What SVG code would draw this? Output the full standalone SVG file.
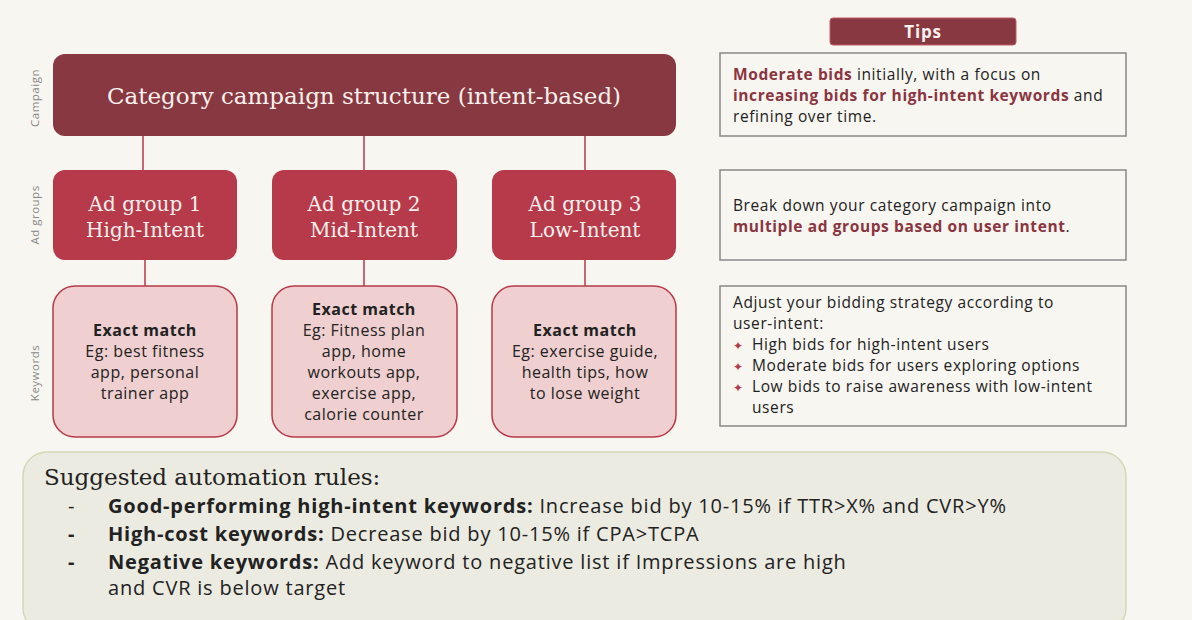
<svg xmlns="http://www.w3.org/2000/svg" width="1192" height="620" viewBox="0 0 1192 620">
<style>
.serif{font-family:"DejaVu Serif",serif}
.sans{font-family:"Open Sans",sans-serif}
.ag{fill:#b73a4a}
.kw{fill:#efcfcf;stroke:#b73a4a;stroke-width:1.5}
.tip{fill:#f8f6f1;stroke:#888;stroke-width:1.5}
.lbl{font-family:"Open Sans",sans-serif;font-size:11.5px;fill:#888;letter-spacing:0.5px}
.agt{font-family:"DejaVu Serif",serif;font-size:20px;fill:#fbf1ee;text-anchor:middle}
.kt{font-family:"Open Sans",sans-serif;font-size:16px;fill:#222;text-anchor:middle;letter-spacing:0.5px}
.tt{font-family:"Open Sans",sans-serif;font-size:15.5px;fill:#222;letter-spacing:0.6px}
.hl{font-weight:bold;fill:#8a3540}
.st{fill:#b73a4a;font-size:12px}
.bt{font-family:"Open Sans",sans-serif;font-size:20px;fill:#222;letter-spacing:0.8px}
</style>
<rect width="1192" height="620" fill="#f8f6f1"/>
<g class="lbl">
<text transform="translate(39,98) rotate(-90)" text-anchor="middle">Campaign</text>
<text transform="translate(39,215) rotate(-90)" text-anchor="middle">Ad groups</text>
<text transform="translate(39,373) rotate(-90)" text-anchor="middle">Keywords</text>
</g>
<g id="connectors" stroke="#b73a4a" stroke-width="1.5">
<line x1="143" y1="136" x2="143" y2="170"/><line x1="364" y1="136" x2="364" y2="170"/><line x1="585" y1="136" x2="585" y2="170"/>
<line x1="145" y1="260" x2="145" y2="286"/><line x1="364" y1="260" x2="364" y2="286"/><line x1="585" y1="260" x2="585" y2="286"/>
</g>
<g id="campaign"><rect x="53" y="54" width="623" height="82" rx="12" fill="#883840"/>
<text x="364" y="104" class="serif" font-size="23" fill="#fbf1ee" text-anchor="middle">Category campaign structure (intent-based)</text></g>
<g id="ag1"><rect class="ag" x="53" y="170" width="184" height="90" rx="12"/><text class="agt" x="145" y="211">Ad group 1</text><text class="agt" x="145" y="237">High-Intent</text></g>
<g id="ag2"><rect class="ag" x="272" y="170" width="185" height="90" rx="12"/><text class="agt" x="364" y="211">Ad group 2</text><text class="agt" x="364" y="237">Mid-Intent</text></g>
<g id="ag3"><rect class="ag" x="492" y="170" width="184" height="90" rx="12"/><text class="agt" x="585" y="211">Ad group 3</text><text class="agt" x="585" y="237">Low-Intent</text></g>
<g id="kw1"><rect class="kw" x="53" y="286" width="184" height="151" rx="22"/>
<text class="kt" x="145" y="336"><tspan font-weight="bold">Exact match</tspan><tspan x="145" dy="21">Eg: best fitness</tspan><tspan x="145" dy="21">app, personal</tspan><tspan x="145" dy="21">trainer app</tspan></text></g>
<g id="kw2"><rect class="kw" x="272" y="286" width="185" height="151" rx="22"/>
<text class="kt" x="364" y="315"><tspan font-weight="bold">Exact match</tspan><tspan x="364" dy="21">Eg: Fitness plan</tspan><tspan x="364" dy="21">app, home</tspan><tspan x="364" dy="21">workouts app,</tspan><tspan x="364" dy="21">exercise app,</tspan><tspan x="364" dy="21">calorie counter</tspan></text></g>
<g id="kw3"><rect class="kw" x="492" y="286" width="184" height="151" rx="22"/>
<text class="kt" x="585" y="336"><tspan font-weight="bold">Exact match</tspan><tspan x="585" dy="21">Eg: exercise guide,</tspan><tspan x="585" dy="21">health tips, how</tspan><tspan x="585" dy="21">to lose weight</tspan></text></g>
<g id="tips-header"><rect x="830" y="18" width="186" height="27" rx="3" fill="#883840" stroke="#c05a64"/>
<text x="923" y="38" class="sans" font-size="17" font-weight="bold" fill="#fbf1ee" text-anchor="middle" letter-spacing="0.8">Tips</text></g>
<g id="tip1"><rect class="tip" x="720" y="53" width="406" height="83"/>
<text class="tt" x="733" y="80"><tspan class="hl">Moderate bids</tspan> initially, with a focus on<tspan x="733" dy="21" class="hl">increasing bids for high-intent keywords</tspan> and<tspan x="733" dy="21">refining over time.</tspan></text></g>
<g id="tip2"><rect class="tip" x="720" y="170" width="406" height="90"/>
<text class="tt" x="733" y="211">Break down your category campaign into<tspan x="733" dy="21" class="hl">multiple ad groups based on user intent</tspan>.</text></g>
<g id="tip3"><rect class="tip" x="720" y="286" width="406" height="140"/>
<text class="tt" x="733" y="308">Adjust your bidding strategy according to<tspan x="733" dy="21">user-intent:</tspan>
<tspan x="733" dy="21" class="st">✦</tspan><tspan x="752">High bids for high-intent users</tspan>
<tspan x="733" dy="21" class="st">✦</tspan><tspan x="752">Moderate bids for users exploring options</tspan>
<tspan x="733" dy="21" class="st">✦</tspan><tspan x="752">Low bids to raise awareness with low-intent</tspan><tspan x="752" dy="21">users</tspan></text></g>
<g id="rules"><rect x="23" y="452" width="1103" height="180" rx="24" fill="#ebebe1" stroke="#d3d9b4" stroke-width="1.5"/>
<text x="44" y="485" class="serif" font-size="23" fill="#222">Suggested automation rules:</text>
<text class="bt" x="68" y="513">-<tspan x="108" font-weight="bold">Good-performing high-intent keywords:</tspan> Increase bid by 10-15% if TTR&gt;X% and CVR&gt;Y%</text>
<text class="bt" x="68" y="541"><tspan font-weight="bold">-</tspan><tspan x="108" font-weight="bold">High-cost keywords:</tspan> Decrease bid by 10-15% if CPA&gt;TCPA</text>
<text class="bt" x="68" y="569"><tspan font-weight="bold">-</tspan><tspan x="108" font-weight="bold">Negative keywords:</tspan> Add keyword to negative list if Impressions are high<tspan x="108" dy="26">and CVR is below target</tspan></text></g>
</svg>
